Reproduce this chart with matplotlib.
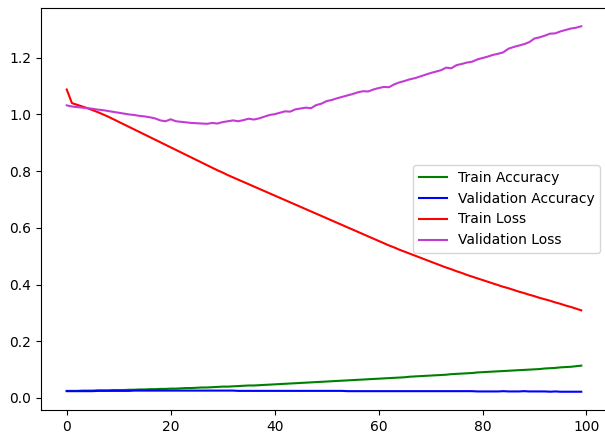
import numpy as np
import matplotlib
matplotlib.use("Agg")
import matplotlib.pyplot as plt

epochs = list(range(100))

train_acc = [0.025, 0.025, 0.025, 0.026, 0.026, 0.026, 0.027, 0.027, 0.027, 0.028,
             0.028, 0.028, 0.029, 0.029, 0.030, 0.030, 0.031, 0.031, 0.032, 0.032,
             0.033, 0.033, 0.034, 0.035, 0.035, 0.036, 0.037, 0.037, 0.038, 0.039,
             0.040, 0.040, 0.041, 0.042, 0.043, 0.044, 0.044, 0.045, 0.046, 0.047,
             0.048, 0.049, 0.050, 0.051, 0.052, 0.053, 0.054, 0.055, 0.056, 0.057,
             0.058, 0.059, 0.060, 0.061, 0.062, 0.063, 0.064, 0.065, 0.066, 0.067,
             0.068, 0.069, 0.070, 0.071, 0.072, 0.073, 0.075, 0.076, 0.077, 0.078,
             0.079, 0.080, 0.081, 0.082, 0.084, 0.085, 0.086, 0.087, 0.088, 0.090,
             0.091, 0.092, 0.093, 0.094, 0.095, 0.096, 0.097, 0.098, 0.099, 0.100,
             0.101, 0.102, 0.104, 0.105, 0.106, 0.108, 0.109, 0.110, 0.112, 0.114]

val_acc = [0.024, 0.024, 0.024, 0.024, 0.024, 0.024, 0.025, 0.025, 0.025, 0.025,
           0.025, 0.025, 0.025, 0.026, 0.026, 0.026, 0.026, 0.026, 0.026, 0.026,
           0.026, 0.026, 0.026, 0.026, 0.026, 0.026, 0.026, 0.026, 0.026, 0.026,
           0.026, 0.026, 0.026, 0.025, 0.025, 0.025, 0.025, 0.025, 0.025, 0.025,
           0.025, 0.025, 0.025, 0.025, 0.025, 0.025, 0.025, 0.025, 0.025, 0.025,
           0.025, 0.025, 0.025, 0.025, 0.024, 0.024, 0.024, 0.024, 0.024, 0.024,
           0.024, 0.024, 0.024, 0.024, 0.024, 0.024, 0.024, 0.024, 0.024, 0.024,
           0.024, 0.024, 0.024, 0.024, 0.024, 0.024, 0.024, 0.024, 0.024, 0.023,
           0.023, 0.023, 0.023, 0.023, 0.024, 0.023, 0.023, 0.023, 0.024, 0.023,
           0.023, 0.023, 0.023, 0.022, 0.023, 0.022, 0.022, 0.022, 0.022, 0.022]

train_loss = [1.088, 1.040, 1.034, 1.028, 1.022, 1.015, 1.008, 1.000, 0.992, 0.983,
              0.974, 0.965, 0.956, 0.947, 0.938, 0.929, 0.920, 0.911, 0.902, 0.893,
              0.884, 0.875, 0.866, 0.857, 0.848, 0.839, 0.830, 0.821, 0.812, 0.803,
              0.795, 0.786, 0.778, 0.770, 0.762, 0.754, 0.746, 0.738, 0.730, 0.722,
              0.714, 0.706, 0.698, 0.690, 0.682, 0.674, 0.666, 0.658, 0.650, 0.642,
              0.634, 0.626, 0.618, 0.610, 0.602, 0.594, 0.586, 0.578, 0.570, 0.562,
              0.554, 0.546, 0.538, 0.531, 0.523, 0.516, 0.509, 0.502, 0.495, 0.488,
              0.481, 0.474, 0.467, 0.460, 0.454, 0.447, 0.441, 0.434, 0.428, 0.422,
              0.416, 0.410, 0.404, 0.398, 0.392, 0.387, 0.381, 0.375, 0.370, 0.364,
              0.359, 0.353, 0.348, 0.343, 0.337, 0.332, 0.326, 0.321, 0.315, 0.309]

val_loss = [1.032, 1.028, 1.026, 1.024, 1.022, 1.020, 1.017, 1.015, 1.012, 1.009,
            1.006, 1.003, 1.000, 0.998, 0.995, 0.993, 0.990, 0.986, 0.979, 0.976,
            0.983, 0.976, 0.974, 0.972, 0.970, 0.969, 0.968, 0.967, 0.970, 0.968,
            0.973, 0.976, 0.979, 0.976, 0.980, 0.985, 0.982, 0.986, 0.992, 0.998,
            1.001, 1.006, 1.011, 1.010, 1.018, 1.021, 1.024, 1.022, 1.033, 1.038,
            1.047, 1.051, 1.057, 1.062, 1.067, 1.072, 1.078, 1.082, 1.081, 1.088,
            1.093, 1.097, 1.096, 1.106, 1.113, 1.118, 1.124, 1.128, 1.134, 1.140,
            1.146, 1.151, 1.156, 1.165, 1.163, 1.174, 1.178, 1.183, 1.186, 1.194,
            1.199, 1.204, 1.210, 1.214, 1.219, 1.232, 1.238, 1.243, 1.248, 1.255,
            1.268, 1.272, 1.278, 1.285, 1.286, 1.293, 1.298, 1.303, 1.306, 1.311]

fig = plt.figure(figsize=(6.05, 4.36), dpi=100)
# axes run past the right edge, the reference is cropped there
ax = fig.add_axes([41/605, 26/436, 566/605, 402/436])

ax.plot(epochs, train_acc, color="g", label="Train Accuracy")
ax.plot(epochs, val_acc, color="b", label="Validation Accuracy")
ax.plot(epochs, train_loss, color="r", label="Train Loss")
ax.plot(epochs, val_loss, color="#c43bd4", label="Validation Loss")

ax.set_yticks([0.0, 0.2, 0.4, 0.6, 0.8, 1.0, 1.2])
ax.legend(loc="center right")

plt.savefig("out.png", dpi=100)
